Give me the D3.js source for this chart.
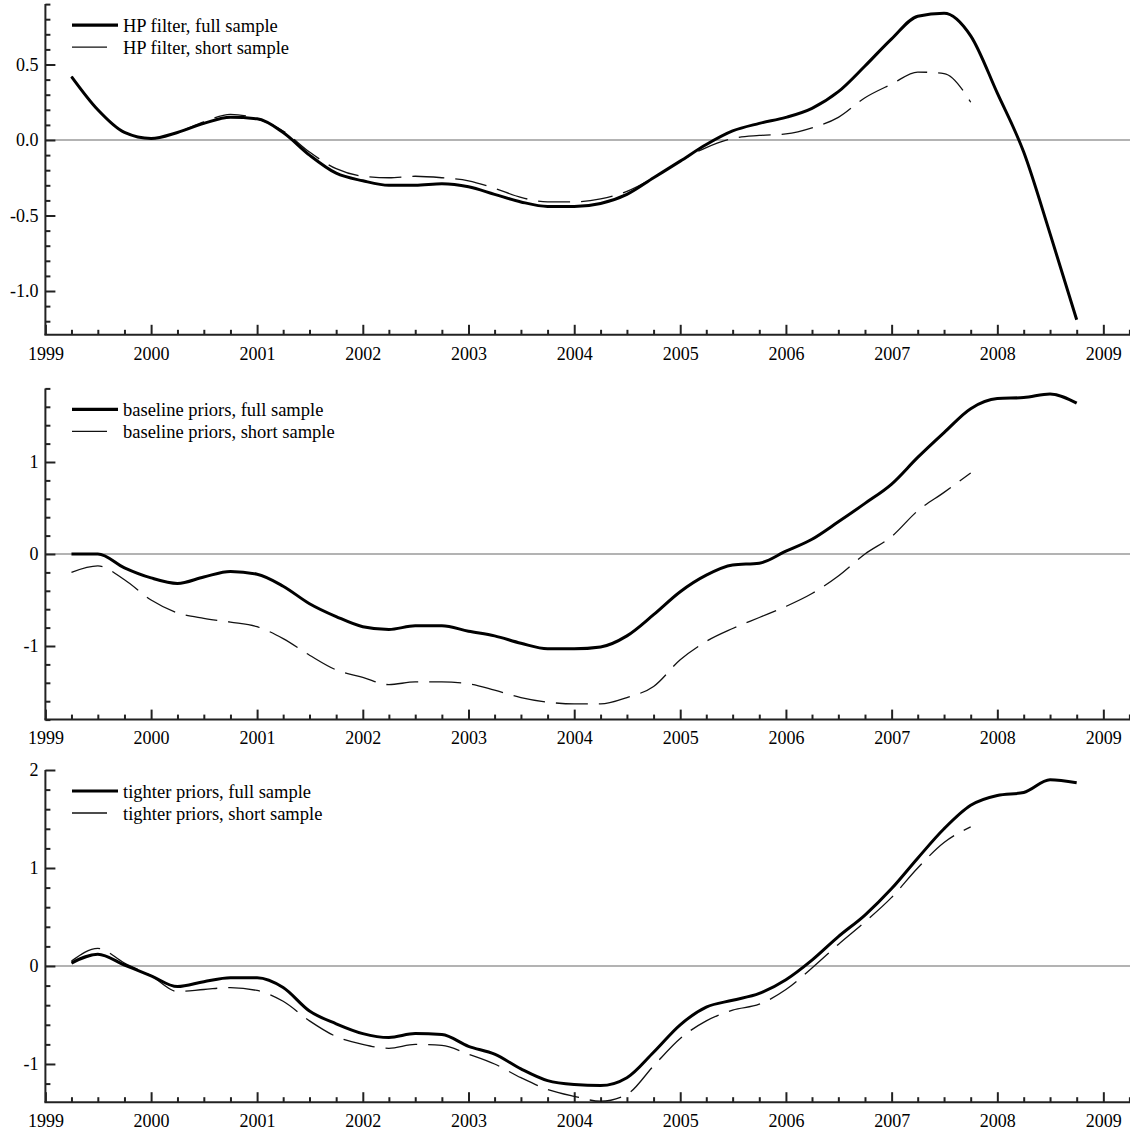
<!DOCTYPE html>
<html>
<head>
<meta charset="utf-8">
<script src="https://cdn.jsdelivr.net/npm/d3@7"></script>
<style>
  body { margin: 0; background: #fff; }
  svg text { font-family: "Liberation Serif", "Times New Roman", serif; }
</style>
</head>
<body>
<script>
// Quarter labels (dates placed at start of quarter offset used in the plot)
const quarters = [
  "1999Q2","1999Q3","1999Q4",
  "2000Q1","2000Q2","2000Q3","2000Q4",
  "2001Q1","2001Q2","2001Q3","2001Q4",
  "2002Q1","2002Q2","2002Q3","2002Q4",
  "2003Q1","2003Q2","2003Q3","2003Q4",
  "2004Q1","2004Q2","2004Q3","2004Q4",
  "2005Q1","2005Q2","2005Q3","2005Q4",
  "2006Q1","2006Q2","2006Q3","2006Q4",
  "2007Q1","2007Q2","2007Q3","2007Q4",
  "2008Q1","2008Q2","2008Q3","2008Q4"
];

// Panel 1: HP filter
const hpFull = [0.42, 0.20, 0.05, 0.01, 0.05, 0.11, 0.15, 0.14, 0.05, -0.10, -0.22, -0.27, -0.30, -0.30, -0.29, -0.31,
  -0.36, -0.41, -0.44, -0.44, -0.42, -0.36, -0.25, -0.14, -0.03, 0.06, 0.11, 0.15, 0.21, 0.32, 0.49, 0.67,
  0.82, 0.84, 0.69, 0.31, -0.08, -0.62, -1.19];
const hpShort = [0.42, 0.20, 0.05, 0.01, 0.05, 0.12, 0.17, 0.14, 0.06, -0.08, -0.19, -0.24, -0.25, -0.24, -0.25, -0.27,
  -0.32, -0.38, -0.41, -0.41, -0.39, -0.34, -0.25, -0.14, -0.05, 0.01, 0.03, 0.04, 0.08, 0.15, 0.28, 0.37,
  0.45, 0.44, 0.25];

// Panel 2: baseline priors
const baseFull = [0.00, 0.00, -0.15, -0.26, -0.32, -0.25, -0.19, -0.22, -0.35, -0.54, -0.68, -0.79, -0.82, -0.78, -0.78, -0.84,
  -0.89, -0.97, -1.03, -1.03, -1.01, -0.89, -0.66, -0.41, -0.23, -0.12, -0.10, 0.03, 0.16, 0.35, 0.55, 0.76,
  1.05, 1.32, 1.58, 1.69, 1.70, 1.74, 1.64];
const baseShort = [-0.20, -0.13, -0.28, -0.50, -0.64, -0.70, -0.74, -0.79, -0.92, -1.10, -1.26, -1.34, -1.42, -1.39, -1.39, -1.41,
  -1.48, -1.56, -1.61, -1.63, -1.63, -1.56, -1.44, -1.15, -0.95, -0.81, -0.69, -0.57, -0.43, -0.24, 0.00, 0.19,
  0.47, 0.67, 0.88];

// Panel 3: tighter priors
const tightFull = [0.03, 0.12, 0.01, -0.10, -0.21, -0.16, -0.12, -0.12, -0.22, -0.46, -0.59, -0.69, -0.73, -0.69, -0.70, -0.82,
  -0.90, -1.05, -1.17, -1.21, -1.22, -1.14, -0.88, -0.60, -0.42, -0.35, -0.28, -0.14, 0.06, 0.30, 0.52, 0.79,
  1.10, 1.40, 1.64, 1.74, 1.77, 1.90, 1.87];
const tightShort = [0.05, 0.18, 0.03, -0.10, -0.26, -0.24, -0.22, -0.25, -0.36, -0.56, -0.72, -0.80, -0.84, -0.80, -0.81, -0.90,
  -1.00, -1.14, -1.26, -1.33, -1.38, -1.31, -1.02, -0.74, -0.56, -0.45, -0.39, -0.24, -0.02, 0.22, 0.45, 0.70,
  1.00, 1.26, 1.42];

const legendLabels = [
  ["HP filter, full sample", "HP filter, short sample"],
  ["baseline priors, full sample", "baseline priors, short sample"],
  ["tighter priors, full sample", "tighter priors, short sample"]
];

// Layout
const WIDTH = 1130;
const HEIGHT = 1130;
const X_LEFT = 45.4;
const X_RIGHT = 1129.4;
const TICK_FONT = 18;
const LEGEND_FONT = 18.5;

const panels = [
  { top: 4.1, bottom: 334.8, domain: [-1.29, 0.9], major: [-1, -0.5, 0, 0.5], minorStep: 0.1, fmt: ".1f",
    full: hpFull, short: hpShort, labels: legendLabels[0] },
  { top: 388.4, bottom: 719.6, domain: [-1.8, 1.8], major: [-1, 0, 1], minorStep: 0.2, fmt: "d",
    full: baseFull, short: baseShort, labels: legendLabels[1] },
  { top: 770, bottom: 1102.2, domain: [-1.39, 2.0], major: [-1, 0, 1, 2], minorStep: 0.2, fmt: "d",
    full: tightFull, short: tightShort, labels: legendLabels[2] }
];

const parseQuarter = (s) => new Date(+s.slice(0, 4), (+s.slice(5) - 1) * 3, 1);
const dates = quarters.map(parseQuarter);

const svg = d3.select("body")
  .append("svg")
  .attr("width", WIDTH)
  .attr("height", HEIGHT);

const x = d3.scaleTime()
  .domain([new Date(1999, 0, 1), new Date(2009, 3, 1)])
  .range([X_LEFT, X_RIGHT]);

const hyphen = (f) => (v) => d3.format(f)(v).replace("\u2212", "-");

panels.forEach((p) => {
  const y = d3.scaleLinear().domain(p.domain).range([p.bottom, p.top]);
  const g = svg.append("g");

  // zero line
  g.append("line")
    .attr("x1", X_LEFT).attr("x2", WIDTH)
    .attr("y1", y(0)).attr("y2", y(0))
    .attr("stroke", "#9a9a9a")
    .attr("stroke-width", 1.5);

  // x axis, minor quarters
  const minorX = d3.timeMonth.every(3).range(x.domain()[0], new Date(2009, 4, 1))
    .filter((d) => d.getMonth() !== 0);
  g.append("g")
    .attr("transform", `translate(0, ${p.bottom})`)
    .call(d3.axisBottom(x).tickValues(minorX).tickSize(-5).tickSizeOuter(0).tickFormat(""))
    .call((a) => a.select(".domain").remove());

  g.append("g")
    .attr("class", "xaxis")
    .attr("transform", `translate(0, ${p.bottom})`)
    .call(d3.axisBottom(x).ticks(d3.timeYear.every(1)).tickSize(-10).tickSizeOuter(0)
      .tickPadding(12).tickFormat(d3.timeFormat("%Y")))
    .call((a) => a.select(".domain").attr("d", `M${X_LEFT - 1},0H${WIDTH}`));

  // y axis
  const minorY = d3.range(Math.ceil(p.domain[0] / p.minorStep - 1e-6), Math.floor(p.domain[1] / p.minorStep + 1e-6) + 1)
    .map((i) => +(i * p.minorStep).toFixed(2))
    .filter((v) => !p.major.some((m) => Math.abs(m - v) < 1e-6));
  g.append("g")
    .attr("transform", `translate(${X_LEFT}, 0)`)
    .call(d3.axisLeft(y).tickValues(minorY).tickSize(-5).tickSizeOuter(0).tickFormat(""))
    .call((a) => a.select(".domain").remove());

  g.append("g")
    .attr("class", "yaxis")
    .attr("transform", `translate(${X_LEFT}, 0)`)
    .call(d3.axisLeft(y).tickValues(p.major).tickSize(-10).tickSizeOuter(0)
      .tickPadding(7).tickFormat(hyphen(p.fmt)))
    .call((a) => a.select(".domain").attr("d", `M0,${p.top}V${p.bottom}`));

  const line = d3.line()
    .x((d) => x(d.date))
    .y((d) => y(d.v))
    .curve(d3.curveMonotoneX);

  g.append("path")
    .datum(p.short.map((v, i) => ({ date: dates[i], v })))
    .attr("fill", "none")
    .attr("stroke", "#111")
    .attr("stroke-width", 1.3)
    .attr("stroke-dasharray", "32,11")
    .attr("d", line);

  g.append("path")
    .datum(p.full.map((v, i) => ({ date: dates[i], v })))
    .attr("fill", "none")
    .attr("stroke", "#000")
    .attr("stroke-width", 3)
    .attr("d", line);

  // legend
  const ly = p.top + 21;
  g.append("line")
    .attr("x1", 72).attr("x2", 118).attr("y1", ly).attr("y2", ly)
    .attr("stroke", "#000").attr("stroke-width", 3.2);
  g.append("line")
    .attr("x1", 72).attr("x2", 107).attr("y1", ly + 22).attr("y2", ly + 22)
    .attr("stroke", "#111").attr("stroke-width", 1.3);
  p.labels.forEach((t, i) => {
    g.append("text")
      .attr("x", 123)
      .attr("y", ly + 7 + i * 22)
      .style("font-size", `${LEGEND_FONT}px`)
      .attr("fill", "#000")
      .text(t);
  });
});

svg.selectAll(".tick text")
  .style("font-size", `${TICK_FONT}px`)
  .attr("fill", "#000");
svg.selectAll(".tick line").attr("stroke", "#222").attr("stroke-width", 2);
svg.selectAll(".domain").attr("stroke", "#222").attr("stroke-width", 2);
svg.selectAll("g").attr("font-family", null);
</script>
</body>
</html>
